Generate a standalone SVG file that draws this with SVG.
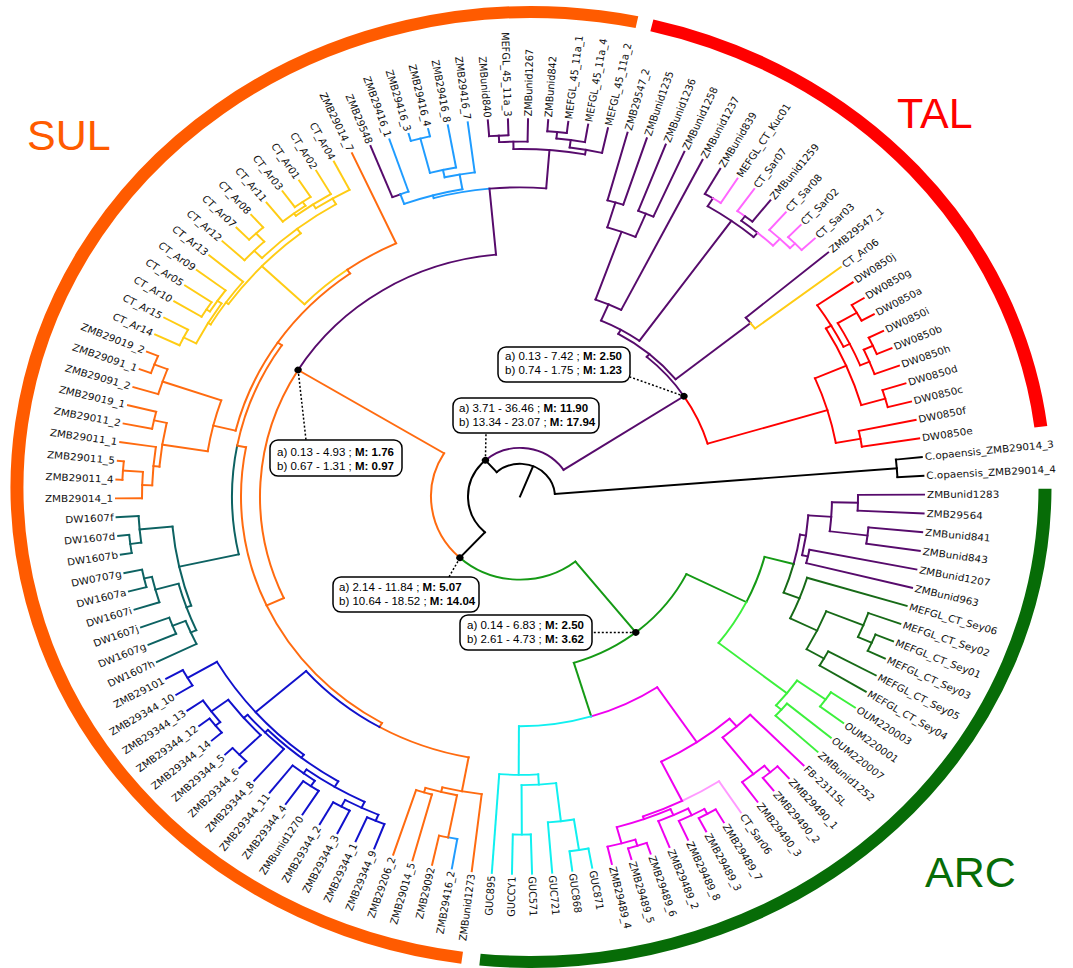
<svg xmlns="http://www.w3.org/2000/svg" width="1073" height="968" viewBox="0 0 1073 968">
<style>
#tree line,#tree circle{fill:none;stroke-width:2;stroke-linecap:square}
.k{stroke:#000}.pu{stroke:#570b6c}.or{stroke:#ff6b10}.ye{stroke:#ffcc14}.lb{stroke:#1f9cff}.te{stroke:#0d6262}.bl{stroke:#1111cc}.rd{stroke:#ff0000}.pk{stroke:#ff66ff}.mg{stroke:#f000f0}.lp{stroke:#ff99ff}.cy{stroke:#10f0f0}.gr{stroke:#159a15}.lm{stroke:#3cf03c}.dg{stroke:#176a17}
.lab text{font-family:"DejaVu Sans",sans-serif;font-size:10.4px;fill:#111;dominant-baseline:central}
.lab .f{text-anchor:end}
.ring{fill:none;stroke-width:13}
.big{font-family:"Liberation Sans",Arial,sans-serif;font-size:43px}
.box rect{fill:#fff;stroke:#000;stroke-width:1.5}
.box text{font-family:"Liberation Sans",Arial,sans-serif;font-size:11.5px;fill:#000}
.lead{stroke:#000;stroke-width:1.5;stroke-dasharray:2 2;fill:none}
</style>
<rect width="1073" height="968" fill="#fff"/>
<g id="rings" transform="translate(531,487) scale(1,0.9241)">
<circle class="ring" r="514" pathLength="360" stroke="#ff5b00" stroke-dasharray="184.2 999" transform="rotate(97.7)"/>
<circle class="ring" r="514" pathLength="360" stroke="#ff0000" stroke-dasharray="69.1 999" transform="rotate(283.6)"/>
<circle class="ring" r="514" pathLength="360" stroke="#076c07" stroke-dasharray="95.5 999" transform="rotate(0.2)"/>
</g>
<g id="clade-labels">
<text class="big" x="27" y="150" fill="#ff5b00">SUL</text>
<text class="big" x="897" y="128" fill="#ff0000">TAL</text>
<text class="big" x="925" y="887" fill="#076c07">ARC</text>
</g>
<g id="tree" transform="translate(520,496.5) scale(1,0.934)">
<line class="k" x1="0" x2="35" transform="rotate(291.89)"/>
<circle class="k" r="35" pathLength="360" stroke-dasharray="127.08 999" transform="rotate(228.35)"/>
<line class="k" x1="35" x2="378" transform="rotate(355.43)"/>
<circle class="k" r="378" pathLength="360" stroke-dasharray="2.86 999" transform="rotate(-6)"/>
<line class="k" x1="378" x2="404" transform="rotate(-6)"/>
<line class="k" x1="378" x2="404" transform="rotate(-3.14)"/>
<line class="k" x1="35" x2="52" transform="rotate(228.35)"/>
<circle class="k" r="52" pathLength="360" stroke-dasharray="95.85 999" transform="rotate(132.5)"/>
<circle class="pu" r="52" pathLength="360" stroke-dasharray="98.42 999" transform="rotate(228.35)"/>
<line class="k" x1="52" x2="89" transform="rotate(132.5)"/>
<circle class="gr" r="89" pathLength="360" stroke-dasharray="81 999" transform="rotate(51.5)"/>
<circle class="or" r="89" pathLength="360" stroke-dasharray="78.9 999" transform="rotate(132.5)"/>
<line class="pu" x1="52" x2="196" transform="rotate(326.77)"/>
<circle class="pu" r="196" pathLength="360" stroke-dasharray="16.47 999" transform="rotate(310.3)"/>
<circle class="rd" r="196" pathLength="360" stroke-dasharray="16.47 999" transform="rotate(326.77)"/>
<line class="pu" x1="196" x2="200" transform="rotate(310.3)"/>
<line class="rd" x1="196" x2="321" transform="rotate(343.24)"/>
<circle class="rd" r="321" pathLength="360" stroke-dasharray="12.94 999" transform="rotate(336.77)"/>
<line class="rd" x1="321" x2="355" transform="rotate(336.77)"/>
<line class="rd" x1="321" x2="346" transform="rotate(349.71)"/>
<circle class="rd" r="346" pathLength="360" stroke-dasharray="2.85 999" transform="rotate(348.29)"/>
<line class="rd" x1="346" x2="404" transform="rotate(348.29)"/>
<line class="rd" x1="346" x2="404" transform="rotate(351.14)"/>
<circle class="rd" r="355" pathLength="360" stroke-dasharray="14.46 999" transform="rotate(329.54)"/>
<line class="rd" x1="355" x2="361" transform="rotate(329.54)"/>
<line class="rd" x1="355" x2="380" transform="rotate(344)"/>
<circle class="rd" r="380" pathLength="360" stroke-dasharray="2.86 999" transform="rotate(342.57)"/>
<line class="rd" x1="380" x2="404" transform="rotate(342.57)"/>
<line class="rd" x1="380" x2="404" transform="rotate(345.43)"/>
<circle class="rd" r="361" pathLength="360" stroke-dasharray="8.21 999" transform="rotate(325.43)"/>
<line class="rd" x1="361" x2="404" transform="rotate(325.43)"/>
<line class="rd" x1="361" x2="368" transform="rotate(333.64)"/>
<circle class="rd" r="368" pathLength="360" stroke-dasharray="7.86 999" transform="rotate(329.71)"/>
<line class="rd" x1="368" x2="390" transform="rotate(329.71)"/>
<line class="rd" x1="368" x2="378" transform="rotate(337.57)"/>
<circle class="rd" r="390" pathLength="360" stroke-dasharray="2.85 999" transform="rotate(328.29)"/>
<line class="rd" x1="390" x2="404" transform="rotate(328.29)"/>
<line class="rd" x1="390" x2="404" transform="rotate(331.14)"/>
<circle class="rd" r="378" pathLength="360" stroke-dasharray="4.28 999" transform="rotate(335.43)"/>
<line class="rd" x1="378" x2="388" transform="rotate(335.43)"/>
<line class="rd" x1="378" x2="404" transform="rotate(339.71)"/>
<circle class="rd" r="388" pathLength="360" stroke-dasharray="2.86 999" transform="rotate(334)"/>
<line class="rd" x1="388" x2="404" transform="rotate(334)"/>
<line class="rd" x1="388" x2="404" transform="rotate(336.86)"/>
<circle class="pu" r="200" pathLength="360" stroke-dasharray="21.69 999" transform="rotate(299.45)"/>
<line class="pu" x1="200" x2="205" transform="rotate(299.45)"/>
<line class="pu" x1="200" x2="296" transform="rotate(321.14)"/>
<circle class="pu" r="296" pathLength="360" stroke-dasharray="1.43 999" transform="rotate(319.71)"/>
<circle class="ye" r="296" pathLength="360" stroke-dasharray="1.43 999" transform="rotate(321.14)"/>
<line class="pu" x1="296" x2="404" transform="rotate(319.71)"/>
<line class="ye" x1="296" x2="404" transform="rotate(322.57)"/>
<circle class="pu" r="205" pathLength="360" stroke-dasharray="12.32 999" transform="rotate(293.29)"/>
<line class="pu" x1="205" x2="224" transform="rotate(293.29)"/>
<line class="pu" x1="205" x2="363" transform="rotate(305.61)"/>
<circle class="pu" r="224" pathLength="360" stroke-dasharray="7.15 999" transform="rotate(289.71)"/>
<line class="pu" x1="224" x2="301" transform="rotate(289.71)"/>
<line class="pu" x1="224" x2="404" transform="rotate(296.86)"/>
<circle class="pu" r="301" pathLength="360" stroke-dasharray="5.71 999" transform="rotate(286.86)"/>
<line class="pu" x1="301" x2="329" transform="rotate(286.86)"/>
<line class="pu" x1="301" x2="328" transform="rotate(292.57)"/>
<circle class="pu" r="329" pathLength="360" stroke-dasharray="2.86 999" transform="rotate(285.43)"/>
<line class="pu" x1="329" x2="404" transform="rotate(285.43)"/>
<line class="pu" x1="329" x2="404" transform="rotate(288.29)"/>
<circle class="pu" r="328" pathLength="360" stroke-dasharray="2.86 999" transform="rotate(291.14)"/>
<line class="pu" x1="328" x2="404" transform="rotate(291.14)"/>
<line class="pu" x1="328" x2="404" transform="rotate(294)"/>
<circle class="pu" r="363" pathLength="360" stroke-dasharray="8.93 999" transform="rotate(301.14)"/>
<line class="pu" x1="363" x2="373" transform="rotate(301.14)"/>
<line class="pu" x1="363" x2="369" transform="rotate(310.07)"/>
<circle class="pu" r="373" pathLength="360" stroke-dasharray="1.43 999" transform="rotate(299.71)"/>
<circle class="pk" r="373" pathLength="360" stroke-dasharray="1.43 999" transform="rotate(301.14)"/>
<line class="pu" x1="373" x2="404" transform="rotate(299.71)"/>
<line class="pk" x1="373" x2="404" transform="rotate(302.57)"/>
<circle class="pu" r="369" pathLength="360" stroke-dasharray="3.21 999" transform="rotate(306.86)"/>
<circle class="pk" r="369" pathLength="360" stroke-dasharray="3.22 999" transform="rotate(310.07)"/>
<line class="pu" x1="369" x2="375" transform="rotate(306.86)"/>
<line class="pk" x1="369" x2="379" transform="rotate(313.29)"/>
<circle class="pk" r="375" pathLength="360" stroke-dasharray="1.43 999" transform="rotate(305.43)"/>
<circle class="pu" r="375" pathLength="360" stroke-dasharray="1.43 999" transform="rotate(306.86)"/>
<line class="pk" x1="375" x2="404" transform="rotate(305.43)"/>
<line class="pu" x1="375" x2="404" transform="rotate(308.29)"/>
<circle class="pk" r="379" pathLength="360" stroke-dasharray="4.29 999" transform="rotate(311.14)"/>
<line class="pk" x1="379" x2="404" transform="rotate(311.14)"/>
<line class="pk" x1="379" x2="386" transform="rotate(315.43)"/>
<circle class="pk" r="386" pathLength="360" stroke-dasharray="2.86 999" transform="rotate(314)"/>
<line class="pk" x1="386" x2="404" transform="rotate(314)"/>
<line class="pk" x1="386" x2="404" transform="rotate(316.86)"/>
<line class="or" x1="89" x2="260" transform="rotate(211.4)"/>
<circle class="or" r="260" pathLength="360" stroke-dasharray="56.12 999" transform="rotate(155.28)"/>
<circle class="pu" r="260" pathLength="360" stroke-dasharray="53.31 999" transform="rotate(211.4)"/>
<line class="or" x1="260" x2="279" transform="rotate(155.28)"/>
<line class="pu" x1="260" x2="331" transform="rotate(264.71)"/>
<circle class="lb" r="331" pathLength="360" stroke-dasharray="9.82 999" transform="rotate(254.89)"/>
<circle class="pu" r="331" pathLength="360" stroke-dasharray="9.83 999" transform="rotate(264.71)"/>
<line class="lb" x1="331" x2="334" transform="rotate(254.89)"/>
<line class="pu" x1="331" x2="372" transform="rotate(274.54)"/>
<circle class="lb" r="334" pathLength="360" stroke-dasharray="10.36 999" transform="rotate(249.71)"/>
<line class="lb" x1="334" x2="345" transform="rotate(249.71)"/>
<line class="lb" x1="334" x2="350" transform="rotate(260.07)"/>
<circle class="pu" r="345" pathLength="360" stroke-dasharray="1.42 999" transform="rotate(248.29)"/>
<circle class="lb" r="345" pathLength="360" stroke-dasharray="1.43 999" transform="rotate(249.71)"/>
<line class="pu" x1="345" x2="404" transform="rotate(248.29)"/>
<line class="lb" x1="345" x2="404" transform="rotate(251.14)"/>
<circle class="lb" r="350" pathLength="360" stroke-dasharray="5 999" transform="rotate(257.57)"/>
<line class="lb" x1="350" x2="358" transform="rotate(257.57)"/>
<line class="lb" x1="350" x2="404" transform="rotate(262.57)"/>
<circle class="lb" r="358" pathLength="360" stroke-dasharray="4.28 999" transform="rotate(255.43)"/>
<line class="lb" x1="358" x2="396" transform="rotate(255.43)"/>
<line class="lb" x1="358" x2="404" transform="rotate(259.71)"/>
<circle class="lb" r="396" pathLength="360" stroke-dasharray="2.86 999" transform="rotate(254)"/>
<line class="lb" x1="396" x2="404" transform="rotate(254)"/>
<line class="lb" x1="396" x2="404" transform="rotate(256.86)"/>
<circle class="pu" r="372" pathLength="360" stroke-dasharray="11.07 999" transform="rotate(269)"/>
<line class="pu" x1="372" x2="380" transform="rotate(269)"/>
<line class="pu" x1="372" x2="377" transform="rotate(280.07)"/>
<circle class="pu" r="380" pathLength="360" stroke-dasharray="4.28 999" transform="rotate(266.86)"/>
<line class="pu" x1="380" x2="387" transform="rotate(266.86)"/>
<line class="pu" x1="380" x2="404" transform="rotate(271.14)"/>
<circle class="pu" r="387" pathLength="360" stroke-dasharray="2.86 999" transform="rotate(265.43)"/>
<line class="pu" x1="387" x2="404" transform="rotate(265.43)"/>
<line class="pu" x1="387" x2="404" transform="rotate(268.29)"/>
<circle class="pu" r="377" pathLength="360" stroke-dasharray="5 999" transform="rotate(277.57)"/>
<line class="pu" x1="377" x2="385" transform="rotate(277.57)"/>
<line class="pu" x1="377" x2="404" transform="rotate(282.57)"/>
<circle class="pu" r="385" pathLength="360" stroke-dasharray="4.28 999" transform="rotate(275.43)"/>
<line class="pu" x1="385" x2="392" transform="rotate(275.43)"/>
<line class="pu" x1="385" x2="404" transform="rotate(279.71)"/>
<circle class="pu" r="392" pathLength="360" stroke-dasharray="2.86 999" transform="rotate(274)"/>
<line class="pu" x1="392" x2="404" transform="rotate(274)"/>
<line class="pu" x1="392" x2="404" transform="rotate(276.86)"/>
<circle class="or" r="279" pathLength="360" stroke-dasharray="71.25 999" transform="rotate(119.65)"/>
<line class="or" x1="279" x2="284" transform="rotate(119.65)"/>
<line class="or" x1="279" x2="288" transform="rotate(190.9)"/>
<circle class="or" r="284" pathLength="360" stroke-dasharray="19.22 999" transform="rotate(100.43)"/>
<circle class="bl" r="284" pathLength="360" stroke-dasharray="19.22 999" transform="rotate(119.65)"/>
<line class="or" x1="284" x2="321" transform="rotate(100.43)"/>
<line class="bl" x1="284" x2="351" transform="rotate(138.87)"/>
<circle class="or" r="321" pathLength="360" stroke-dasharray="7.14 999" transform="rotate(96.86)"/>
<line class="or" x1="321" x2="404" transform="rotate(96.86)"/>
<line class="or" x1="321" x2="326" transform="rotate(104)"/>
<circle class="or" r="326" pathLength="360" stroke-dasharray="5.72 999" transform="rotate(101.14)"/>
<line class="or" x1="326" x2="372" transform="rotate(101.14)"/>
<line class="or" x1="326" x2="331" transform="rotate(106.86)"/>
<circle class="lb" r="372" pathLength="360" stroke-dasharray="1.43 999" transform="rotate(99.71)"/>
<circle class="or" r="372" pathLength="360" stroke-dasharray="1.43 999" transform="rotate(101.14)"/>
<line class="lb" x1="372" x2="404" transform="rotate(99.71)"/>
<line class="or" x1="372" x2="404" transform="rotate(102.57)"/>
<circle class="or" r="331" pathLength="360" stroke-dasharray="2.86 999" transform="rotate(105.43)"/>
<line class="or" x1="331" x2="404" transform="rotate(105.43)"/>
<line class="or" x1="331" x2="404" transform="rotate(108.29)"/>
<circle class="bl" r="351" pathLength="360" stroke-dasharray="21.69 999" transform="rotate(128.02)"/>
<line class="bl" x1="351" x2="355" transform="rotate(128.02)"/>
<line class="bl" x1="351" x2="385" transform="rotate(149.71)"/>
<circle class="bl" r="385" pathLength="360" stroke-dasharray="2.85 999" transform="rotate(148.29)"/>
<line class="bl" x1="385" x2="404" transform="rotate(148.29)"/>
<line class="bl" x1="385" x2="404" transform="rotate(151.14)"/>
<circle class="bl" r="355" pathLength="360" stroke-dasharray="14.46 999" transform="rotate(120.79)"/>
<line class="bl" x1="355" x2="362" transform="rotate(120.79)"/>
<line class="bl" x1="355" x2="359" transform="rotate(135.25)"/>
<circle class="bl" r="359" pathLength="360" stroke-dasharray="8.22 999" transform="rotate(131.14)"/>
<line class="bl" x1="359" x2="404" transform="rotate(131.14)"/>
<line class="bl" x1="359" x2="364" transform="rotate(139.36)"/>
<circle class="bl" r="364" pathLength="360" stroke-dasharray="7.86 999" transform="rotate(135.43)"/>
<line class="bl" x1="364" x2="394" transform="rotate(135.43)"/>
<line class="bl" x1="364" x2="385" transform="rotate(143.29)"/>
<circle class="bl" r="394" pathLength="360" stroke-dasharray="2.86 999" transform="rotate(134)"/>
<line class="bl" x1="394" x2="404" transform="rotate(134)"/>
<line class="bl" x1="394" x2="404" transform="rotate(136.86)"/>
<circle class="bl" r="385" pathLength="360" stroke-dasharray="4.29 999" transform="rotate(141.14)"/>
<line class="bl" x1="385" x2="391" transform="rotate(141.14)"/>
<line class="bl" x1="385" x2="404" transform="rotate(145.43)"/>
<circle class="bl" r="391" pathLength="360" stroke-dasharray="2.86 999" transform="rotate(139.71)"/>
<line class="bl" x1="391" x2="404" transform="rotate(139.71)"/>
<line class="bl" x1="391" x2="404" transform="rotate(142.57)"/>
<circle class="bl" r="362" pathLength="360" stroke-dasharray="10.71 999" transform="rotate(115.43)"/>
<line class="bl" x1="362" x2="369" transform="rotate(115.43)"/>
<line class="bl" x1="362" x2="367" transform="rotate(126.14)"/>
<circle class="bl" r="367" pathLength="360" stroke-dasharray="4.29 999" transform="rotate(124)"/>
<line class="bl" x1="367" x2="374" transform="rotate(124)"/>
<line class="bl" x1="367" x2="404" transform="rotate(128.29)"/>
<circle class="bl" r="374" pathLength="360" stroke-dasharray="2.86 999" transform="rotate(122.57)"/>
<line class="bl" x1="374" x2="404" transform="rotate(122.57)"/>
<line class="bl" x1="374" x2="404" transform="rotate(125.43)"/>
<circle class="bl" r="369" pathLength="360" stroke-dasharray="5.72 999" transform="rotate(112.57)"/>
<line class="bl" x1="369" x2="376" transform="rotate(112.57)"/>
<line class="bl" x1="369" x2="377" transform="rotate(118.29)"/>
<circle class="bl" r="376" pathLength="360" stroke-dasharray="2.86 999" transform="rotate(111.14)"/>
<line class="bl" x1="376" x2="404" transform="rotate(111.14)"/>
<line class="bl" x1="376" x2="404" transform="rotate(114)"/>
<circle class="bl" r="377" pathLength="360" stroke-dasharray="2.85 999" transform="rotate(116.86)"/>
<line class="bl" x1="377" x2="404" transform="rotate(116.86)"/>
<line class="bl" x1="377" x2="404" transform="rotate(119.71)"/>
<circle class="te" r="288" pathLength="360" stroke-dasharray="23.33 999" transform="rotate(167.57)"/>
<circle class="or" r="288" pathLength="360" stroke-dasharray="23.34 999" transform="rotate(190.9)"/>
<line class="te" x1="288" x2="349" transform="rotate(167.57)"/>
<line class="or" x1="288" x2="293" transform="rotate(214.24)"/>
<circle class="te" r="349" pathLength="360" stroke-dasharray="14.28 999" transform="rotate(160.43)"/>
<line class="te" x1="349" x2="354" transform="rotate(160.43)"/>
<line class="te" x1="349" x2="382" transform="rotate(174.71)"/>
<circle class="te" r="382" pathLength="360" stroke-dasharray="4.29 999" transform="rotate(172.57)"/>
<line class="te" x1="382" x2="393" transform="rotate(172.57)"/>
<line class="te" x1="382" x2="404" transform="rotate(176.86)"/>
<circle class="te" r="393" pathLength="360" stroke-dasharray="2.86 999" transform="rotate(171.14)"/>
<line class="te" x1="393" x2="404" transform="rotate(171.14)"/>
<line class="te" x1="393" x2="404" transform="rotate(174)"/>
<circle class="te" r="354" pathLength="360" stroke-dasharray="8.57 999" transform="rotate(156.14)"/>
<line class="te" x1="354" x2="360" transform="rotate(156.14)"/>
<line class="te" x1="354" x2="378" transform="rotate(164.71)"/>
<circle class="te" r="378" pathLength="360" stroke-dasharray="4.29 999" transform="rotate(162.57)"/>
<line class="te" x1="378" x2="404" transform="rotate(162.57)"/>
<line class="te" x1="378" x2="386" transform="rotate(166.86)"/>
<circle class="te" r="386" pathLength="360" stroke-dasharray="2.86 999" transform="rotate(165.43)"/>
<line class="te" x1="386" x2="404" transform="rotate(165.43)"/>
<line class="te" x1="386" x2="404" transform="rotate(168.29)"/>
<circle class="te" r="360" pathLength="360" stroke-dasharray="4.29 999" transform="rotate(154)"/>
<line class="te" x1="360" x2="404" transform="rotate(154)"/>
<line class="te" x1="360" x2="374" transform="rotate(158.29)"/>
<circle class="te" r="374" pathLength="360" stroke-dasharray="2.85 999" transform="rotate(156.86)"/>
<line class="te" x1="374" x2="404" transform="rotate(156.86)"/>
<line class="te" x1="374" x2="404" transform="rotate(159.71)"/>
<circle class="or" r="293" pathLength="360" stroke-dasharray="40.65 999" transform="rotate(193.91)"/>
<line class="or" x1="293" x2="316" transform="rotate(193.91)"/>
<line class="or" x1="293" x2="298" transform="rotate(234.56)"/>
<circle class="or" r="316" pathLength="360" stroke-dasharray="10.18 999" transform="rotate(188.82)"/>
<line class="or" x1="316" x2="362" transform="rotate(188.82)"/>
<line class="or" x1="316" x2="378" transform="rotate(199)"/>
<circle class="or" r="378" pathLength="360" stroke-dasharray="4.28 999" transform="rotate(196.86)"/>
<line class="or" x1="378" x2="404" transform="rotate(196.86)"/>
<line class="or" x1="378" x2="392" transform="rotate(201.14)"/>
<circle class="or" r="392" pathLength="360" stroke-dasharray="2.86 999" transform="rotate(199.71)"/>
<line class="or" x1="392" x2="404" transform="rotate(199.71)"/>
<line class="or" x1="392" x2="404" transform="rotate(202.57)"/>
<circle class="or" r="362" pathLength="360" stroke-dasharray="7.5 999" transform="rotate(185.07)"/>
<line class="or" x1="362" x2="368" transform="rotate(185.07)"/>
<line class="or" x1="362" x2="375" transform="rotate(192.57)"/>
<circle class="or" r="375" pathLength="360" stroke-dasharray="2.86 999" transform="rotate(191.14)"/>
<line class="or" x1="375" x2="404" transform="rotate(191.14)"/>
<line class="or" x1="375" x2="404" transform="rotate(194)"/>
<circle class="or" r="368" pathLength="360" stroke-dasharray="6.43 999" transform="rotate(181.86)"/>
<line class="or" x1="368" x2="378" transform="rotate(181.86)"/>
<line class="or" x1="368" x2="404" transform="rotate(188.29)"/>
<circle class="or" r="378" pathLength="360" stroke-dasharray="4.29 999" transform="rotate(179.71)"/>
<line class="or" x1="378" x2="404" transform="rotate(179.71)"/>
<line class="or" x1="378" x2="398" transform="rotate(184)"/>
<circle class="or" r="398" pathLength="360" stroke-dasharray="2.86 999" transform="rotate(182.57)"/>
<line class="or" x1="398" x2="404" transform="rotate(182.57)"/>
<line class="or" x1="398" x2="404" transform="rotate(185.43)"/>
<circle class="ye" r="298" pathLength="360" stroke-dasharray="10.87 999" transform="rotate(223.69)"/>
<circle class="or" r="298" pathLength="360" stroke-dasharray="10.87 999" transform="rotate(234.56)"/>
<line class="ye" x1="298" x2="357" transform="rotate(223.69)"/>
<line class="or" x1="298" x2="404" transform="rotate(245.43)"/>
<circle class="ye" r="357" pathLength="360" stroke-dasharray="16.87 999" transform="rotate(215.25)"/>
<line class="ye" x1="357" x2="360" transform="rotate(215.25)"/>
<line class="ye" x1="357" x2="363" transform="rotate(232.12)"/>
<circle class="ye" r="360" pathLength="360" stroke-dasharray="8.92 999" transform="rotate(210.79)"/>
<line class="ye" x1="360" x2="363" transform="rotate(210.79)"/>
<line class="ye" x1="360" x2="404" transform="rotate(219.71)"/>
<circle class="ye" r="363" pathLength="360" stroke-dasharray="7.85 999" transform="rotate(206.86)"/>
<line class="ye" x1="363" x2="377" transform="rotate(206.86)"/>
<line class="ye" x1="363" x2="368" transform="rotate(214.71)"/>
<circle class="ye" r="377" pathLength="360" stroke-dasharray="2.86 999" transform="rotate(205.43)"/>
<line class="ye" x1="377" x2="404" transform="rotate(205.43)"/>
<line class="ye" x1="377" x2="404" transform="rotate(208.29)"/>
<circle class="ye" r="368" pathLength="360" stroke-dasharray="4.29 999" transform="rotate(212.57)"/>
<line class="ye" x1="368" x2="372" transform="rotate(212.57)"/>
<line class="ye" x1="368" x2="404" transform="rotate(216.86)"/>
<circle class="ye" r="372" pathLength="360" stroke-dasharray="2.86 999" transform="rotate(211.14)"/>
<line class="ye" x1="372" x2="404" transform="rotate(211.14)"/>
<line class="ye" x1="372" x2="404" transform="rotate(214)"/>
<circle class="ye" r="363" pathLength="360" stroke-dasharray="14.83 999" transform="rotate(224.71)"/>
<line class="ye" x1="363" x2="374" transform="rotate(224.71)"/>
<line class="ye" x1="363" x2="370" transform="rotate(239.54)"/>
<circle class="ye" r="374" pathLength="360" stroke-dasharray="4.29 999" transform="rotate(222.57)"/>
<line class="ye" x1="374" x2="404" transform="rotate(222.57)"/>
<line class="ye" x1="374" x2="386" transform="rotate(226.86)"/>
<circle class="ye" r="386" pathLength="360" stroke-dasharray="2.86 999" transform="rotate(225.43)"/>
<line class="ye" x1="386" x2="404" transform="rotate(225.43)"/>
<line class="ye" x1="386" x2="404" transform="rotate(228.29)"/>
<circle class="ye" r="370" pathLength="360" stroke-dasharray="6.07 999" transform="rotate(236.5)"/>
<line class="ye" x1="370" x2="375" transform="rotate(236.5)"/>
<line class="ye" x1="370" x2="404" transform="rotate(242.57)"/>
<circle class="ye" r="375" pathLength="360" stroke-dasharray="6.42 999" transform="rotate(233.29)"/>
<line class="ye" x1="375" x2="378" transform="rotate(233.29)"/>
<line class="ye" x1="375" x2="404" transform="rotate(239.71)"/>
<circle class="ye" r="378" pathLength="360" stroke-dasharray="4.29 999" transform="rotate(231.14)"/>
<line class="ye" x1="378" x2="404" transform="rotate(231.14)"/>
<line class="ye" x1="378" x2="383" transform="rotate(235.43)"/>
<circle class="ye" r="383" pathLength="360" stroke-dasharray="2.86 999" transform="rotate(234)"/>
<line class="ye" x1="383" x2="404" transform="rotate(234)"/>
<line class="ye" x1="383" x2="404" transform="rotate(236.86)"/>
<line class="gr" x1="89" x2="186" transform="rotate(51.5)"/>
<circle class="gr" r="186" pathLength="360" stroke-dasharray="46.62 999" transform="rotate(26.55)"/>
<line class="gr" x1="186" x2="253" transform="rotate(26.55)"/>
<line class="gr" x1="186" x2="246" transform="rotate(73.17)"/>
<circle class="gr" r="253" pathLength="360" stroke-dasharray="11.75 999" transform="rotate(14.8)"/>
<circle class="lm" r="253" pathLength="360" stroke-dasharray="11.74 999" transform="rotate(26.55)"/>
<line class="gr" x1="253" x2="283" transform="rotate(14.8)"/>
<line class="lm" x1="253" x2="340" transform="rotate(38.29)"/>
<circle class="pu" r="283" pathLength="360" stroke-dasharray="6.51 999" transform="rotate(8.29)"/>
<circle class="dg" r="283" pathLength="360" stroke-dasharray="6.52 999" transform="rotate(14.8)"/>
<line class="pu" x1="283" x2="289" transform="rotate(8.29)"/>
<line class="dg" x1="283" x2="300" transform="rotate(21.32)"/>
<circle class="pu" r="289" pathLength="360" stroke-dasharray="8.57 999" transform="rotate(4)"/>
<line class="pu" x1="289" x2="312" transform="rotate(4)"/>
<line class="pu" x1="289" x2="295" transform="rotate(12.57)"/>
<circle class="pu" r="295" pathLength="360" stroke-dasharray="2.86 999" transform="rotate(11.14)"/>
<line class="pu" x1="295" x2="404" transform="rotate(11.14)"/>
<line class="pu" x1="295" x2="404" transform="rotate(14)"/>
<circle class="pu" r="312" pathLength="360" stroke-dasharray="5.72 999" transform="rotate(1.14)"/>
<line class="pu" x1="312" x2="338" transform="rotate(1.14)"/>
<line class="pu" x1="312" x2="350" transform="rotate(6.86)"/>
<circle class="pu" r="338" pathLength="360" stroke-dasharray="2.86 999" transform="rotate(-0.29)"/>
<line class="pu" x1="338" x2="404" transform="rotate(-0.29)"/>
<line class="pu" x1="338" x2="404" transform="rotate(2.57)"/>
<circle class="pu" r="350" pathLength="360" stroke-dasharray="2.86 999" transform="rotate(5.43)"/>
<line class="pu" x1="350" x2="404" transform="rotate(5.43)"/>
<line class="pu" x1="350" x2="404" transform="rotate(8.29)"/>
<circle class="dg" r="300" pathLength="360" stroke-dasharray="8.93 999" transform="rotate(16.86)"/>
<line class="dg" x1="300" x2="404" transform="rotate(16.86)"/>
<line class="dg" x1="300" x2="330" transform="rotate(25.79)"/>
<circle class="dg" r="330" pathLength="360" stroke-dasharray="7.85 999" transform="rotate(21.86)"/>
<line class="dg" x1="330" x2="370" transform="rotate(21.86)"/>
<line class="dg" x1="330" x2="350" transform="rotate(29.71)"/>
<circle class="dg" r="370" pathLength="360" stroke-dasharray="4.29 999" transform="rotate(19.71)"/>
<line class="dg" x1="370" x2="404" transform="rotate(19.71)"/>
<line class="dg" x1="370" x2="385" transform="rotate(24)"/>
<circle class="dg" r="385" pathLength="360" stroke-dasharray="2.86 999" transform="rotate(22.57)"/>
<line class="dg" x1="385" x2="404" transform="rotate(22.57)"/>
<line class="dg" x1="385" x2="404" transform="rotate(25.43)"/>
<circle class="dg" r="350" pathLength="360" stroke-dasharray="2.85 999" transform="rotate(28.29)"/>
<line class="dg" x1="350" x2="404" transform="rotate(28.29)"/>
<line class="dg" x1="350" x2="404" transform="rotate(31.14)"/>
<circle class="lm" r="340" pathLength="360" stroke-dasharray="5.71 999" transform="rotate(35.43)"/>
<line class="lm" x1="340" x2="375" transform="rotate(35.43)"/>
<line class="lm" x1="340" x2="347" transform="rotate(41.14)"/>
<circle class="lm" r="375" pathLength="360" stroke-dasharray="2.86 999" transform="rotate(34)"/>
<line class="lm" x1="375" x2="404" transform="rotate(34)"/>
<line class="lm" x1="375" x2="404" transform="rotate(36.86)"/>
<circle class="lm" r="347" pathLength="360" stroke-dasharray="2.86 999" transform="rotate(39.71)"/>
<line class="lm" x1="347" x2="404" transform="rotate(39.71)"/>
<line class="lm" x1="347" x2="404" transform="rotate(42.57)"/>
<circle class="mg" r="246" pathLength="360" stroke-dasharray="17.07 999" transform="rotate(56.1)"/>
<circle class="cy" r="246" pathLength="360" stroke-dasharray="17.08 999" transform="rotate(73.17)"/>
<line class="mg" x1="246" x2="317" transform="rotate(56.1)"/>
<line class="cy" x1="246" x2="298" transform="rotate(90.25)"/>
<circle class="cy" r="298" pathLength="360" stroke-dasharray="7.5 999" transform="rotate(86.5)"/>
<line class="cy" x1="298" x2="309" transform="rotate(86.5)"/>
<line class="cy" x1="298" x2="404" transform="rotate(94)"/>
<circle class="cy" r="309" pathLength="360" stroke-dasharray="6.42 999" transform="rotate(83.29)"/>
<line class="cy" x1="309" x2="350" transform="rotate(83.29)"/>
<line class="cy" x1="309" x2="362" transform="rotate(89.71)"/>
<circle class="cy" r="362" pathLength="360" stroke-dasharray="2.85 999" transform="rotate(88.29)"/>
<line class="cy" x1="362" x2="404" transform="rotate(88.29)"/>
<line class="cy" x1="362" x2="404" transform="rotate(91.14)"/>
<circle class="cy" r="350" pathLength="360" stroke-dasharray="4.29 999" transform="rotate(81.14)"/>
<line class="cy" x1="350" x2="383" transform="rotate(81.14)"/>
<line class="cy" x1="350" x2="404" transform="rotate(85.43)"/>
<circle class="cy" r="383" pathLength="360" stroke-dasharray="2.86 999" transform="rotate(79.71)"/>
<line class="cy" x1="383" x2="404" transform="rotate(79.71)"/>
<line class="cy" x1="383" x2="404" transform="rotate(82.57)"/>
<circle class="mg" r="317" pathLength="360" stroke-dasharray="14.91 999" transform="rotate(48.64)"/>
<line class="mg" x1="317" x2="328" transform="rotate(48.64)"/>
<line class="mg" x1="317" x2="364" transform="rotate(63.55)"/>
<circle class="mg" r="328" pathLength="360" stroke-dasharray="6.43 999" transform="rotate(45.43)"/>
<line class="mg" x1="328" x2="404" transform="rotate(45.43)"/>
<line class="mg" x1="328" x2="378" transform="rotate(51.86)"/>
<circle class="mg" r="378" pathLength="360" stroke-dasharray="4.29 999" transform="rotate(49.71)"/>
<line class="mg" x1="378" x2="387" transform="rotate(49.71)"/>
<line class="mg" x1="378" x2="404" transform="rotate(54)"/>
<circle class="mg" r="387" pathLength="360" stroke-dasharray="2.85 999" transform="rotate(48.29)"/>
<line class="mg" x1="387" x2="404" transform="rotate(48.29)"/>
<line class="mg" x1="387" x2="404" transform="rotate(51.14)"/>
<circle class="lp" r="364" pathLength="360" stroke-dasharray="6.69 999" transform="rotate(56.86)"/>
<circle class="mg" r="364" pathLength="360" stroke-dasharray="6.7 999" transform="rotate(63.55)"/>
<line class="lp" x1="364" x2="404" transform="rotate(56.86)"/>
<line class="mg" x1="364" x2="367" transform="rotate(70.25)"/>
<circle class="mg" r="367" pathLength="360" stroke-dasharray="8.92 999" transform="rotate(65.79)"/>
<line class="mg" x1="367" x2="374" transform="rotate(65.79)"/>
<line class="mg" x1="367" x2="385" transform="rotate(74.71)"/>
<circle class="mg" r="385" pathLength="360" stroke-dasharray="4.29 999" transform="rotate(72.57)"/>
<line class="mg" x1="385" x2="392" transform="rotate(72.57)"/>
<line class="mg" x1="385" x2="404" transform="rotate(76.86)"/>
<circle class="mg" r="392" pathLength="360" stroke-dasharray="2.86 999" transform="rotate(71.14)"/>
<line class="mg" x1="392" x2="404" transform="rotate(71.14)"/>
<line class="mg" x1="392" x2="404" transform="rotate(74)"/>
<circle class="mg" r="374" pathLength="360" stroke-dasharray="5 999" transform="rotate(63.29)"/>
<line class="mg" x1="374" x2="382" transform="rotate(63.29)"/>
<line class="mg" x1="374" x2="404" transform="rotate(68.29)"/>
<circle class="mg" r="382" pathLength="360" stroke-dasharray="4.29 999" transform="rotate(61.14)"/>
<line class="mg" x1="382" x2="388" transform="rotate(61.14)"/>
<line class="mg" x1="382" x2="404" transform="rotate(65.43)"/>
<circle class="mg" r="388" pathLength="360" stroke-dasharray="2.86 999" transform="rotate(59.71)"/>
<line class="mg" x1="388" x2="404" transform="rotate(59.71)"/>
<line class="mg" x1="388" x2="404" transform="rotate(62.57)"/>
</g>
<g id="node-dots" transform="translate(520,496.5) scale(1,0.934)" fill="#000">
<circle r="3.6" transform="rotate(228.35) translate(52)"/>
<circle r="3.6" transform="rotate(132.5) translate(89)"/>
<circle r="3.6" transform="rotate(211.4) translate(260)"/>
<circle r="3.6" transform="rotate(326.77) translate(196)"/>
<circle r="3.6" transform="rotate(51.5) translate(186)"/>
</g>
<g class="lab" transform="translate(520,496.5) scale(1,0.934)">
<g id="L1"><text transform="rotate(-6) translate(407)">C.opaensis_ZMB29014_3</text></g>
<g id="L2"><text transform="rotate(-3.14) translate(407)">C.opaensis_ZMB29014_4</text></g>
<g id="L3"><text transform="rotate(-0.29) translate(407)">ZMBunid1283</text></g>
<g id="L4"><text transform="rotate(2.57) translate(407)">ZMB29564</text></g>
<g id="L5"><text transform="rotate(5.43) translate(407)">ZMBunid841</text></g>
<g id="L6"><text transform="rotate(8.29) translate(407)">ZMBunid843</text></g>
<g id="L7"><text transform="rotate(11.14) translate(407)">ZMBunid1207</text></g>
<g id="L8"><text transform="rotate(14) translate(407)">ZMBunid963</text></g>
<g id="L9"><text transform="rotate(16.86) translate(407)">MEFGL_CT_Sey06</text></g>
<g id="L10"><text transform="rotate(19.71) translate(407)">MEFGL_CT_Sey02</text></g>
<g id="L11"><text transform="rotate(22.57) translate(407)">MEFGL_CT_Sey01</text></g>
<g id="L12"><text transform="rotate(25.43) translate(407)">MEFGL_CT_Sey03</text></g>
<g id="L13"><text transform="rotate(28.29) translate(407)">MEFGL_CT_Sey05</text></g>
<g id="L14"><text transform="rotate(31.14) translate(407)">MEFGL_CT_Sey04</text></g>
<g id="L15"><text transform="rotate(34) translate(407)">OUM220003</text></g>
<g id="L16"><text transform="rotate(36.86) translate(407)">OUM220001</text></g>
<g id="L17"><text transform="rotate(39.71) translate(407)">OUM220007</text></g>
<g id="L18"><text transform="rotate(42.57) translate(407)">ZMBunid1252</text></g>
<g id="L19"><text transform="rotate(45.43) translate(407)">FB-2311SL</text></g>
<g id="L20"><text transform="rotate(48.29) translate(407)">ZMB29490_1</text></g>
<g id="L21"><text transform="rotate(51.14) translate(407)">ZMB29490_2</text></g>
<g id="L22"><text transform="rotate(54) translate(407)">ZMB29490_3</text></g>
<g id="L23"><text transform="rotate(56.86) translate(407)">CT_Sar06</text></g>
<g id="L24"><text transform="rotate(59.71) translate(407)">ZMB29489_7</text></g>
<g id="L25"><text transform="rotate(62.57) translate(407)">ZMB29489_3</text></g>
<g id="L26"><text transform="rotate(65.43) translate(407)">ZMB29489_8</text></g>
<g id="L27"><text transform="rotate(68.29) translate(407)">ZMB29489_2</text></g>
<g id="L28"><text transform="rotate(71.14) translate(407)">ZMB29489_6</text></g>
<g id="L29"><text transform="rotate(74) translate(407)">ZMB29489_5</text></g>
<g id="L30"><text transform="rotate(76.86) translate(407)">ZMB29489_4</text></g>
<g id="L31"><text transform="rotate(79.71) translate(407)">GUC871</text></g>
<g id="L32"><text transform="rotate(82.57) translate(407)">GUC868</text></g>
<g id="L33"><text transform="rotate(85.43) translate(407)">GUC721</text></g>
<g id="L34"><text transform="rotate(88.29) translate(407)">GUC571</text></g>
<g id="L35"><text class="f" transform="rotate(91.14) translate(407) rotate(180)">GUCCY1</text></g>
<g id="L36"><text class="f" transform="rotate(94) translate(407) rotate(180)">GUC895</text></g>
<g id="L37"><text class="f" transform="rotate(96.86) translate(407) rotate(180)">ZMBunid1273</text></g>
<g id="L38"><text class="f" transform="rotate(99.71) translate(407) rotate(180)">ZMB29416_2</text></g>
<g id="L39"><text class="f" transform="rotate(102.57) translate(407) rotate(180)">ZMB29092</text></g>
<g id="L40"><text class="f" transform="rotate(105.43) translate(407) rotate(180)">ZMB29014_5</text></g>
<g id="L41"><text class="f" transform="rotate(108.29) translate(407) rotate(180)">ZMB29206_2</text></g>
<g id="L42"><text class="f" transform="rotate(111.14) translate(407) rotate(180)">ZMB29344_9</text></g>
<g id="L43"><text class="f" transform="rotate(114) translate(407) rotate(180)">ZMB29344_1</text></g>
<g id="L44"><text class="f" transform="rotate(116.86) translate(407) rotate(180)">ZMB29344_3</text></g>
<g id="L45"><text class="f" transform="rotate(119.71) translate(407) rotate(180)">ZMB29344_2</text></g>
<g id="L46"><text class="f" transform="rotate(122.57) translate(407) rotate(180)">ZMBunid1270</text></g>
<g id="L47"><text class="f" transform="rotate(125.43) translate(407) rotate(180)">ZMB29344_4</text></g>
<g id="L48"><text class="f" transform="rotate(128.29) translate(407) rotate(180)">ZMB29344_11</text></g>
<g id="L49"><text class="f" transform="rotate(131.14) translate(407) rotate(180)">ZMB29344_8</text></g>
<g id="L50"><text class="f" transform="rotate(134) translate(407) rotate(180)">ZMB29344_6</text></g>
<g id="L51"><text class="f" transform="rotate(136.86) translate(407) rotate(180)">ZMB29344_5</text></g>
<g id="L52"><text class="f" transform="rotate(139.71) translate(407) rotate(180)">ZMB29344_14</text></g>
<g id="L53"><text class="f" transform="rotate(142.57) translate(407) rotate(180)">ZMB29344_12</text></g>
<g id="L54"><text class="f" transform="rotate(145.43) translate(407) rotate(180)">ZMB29344_13</text></g>
<g id="L55"><text class="f" transform="rotate(148.29) translate(407) rotate(180)">ZMB29344_10</text></g>
<g id="L56"><text class="f" transform="rotate(151.14) translate(407) rotate(180)">ZMB29101</text></g>
<g id="L57"><text class="f" transform="rotate(154) translate(407) rotate(180)">DW1607h</text></g>
<g id="L58"><text class="f" transform="rotate(156.86) translate(407) rotate(180)">DW1607g</text></g>
<g id="L59"><text class="f" transform="rotate(159.71) translate(407) rotate(180)">DW1607j</text></g>
<g id="L60"><text class="f" transform="rotate(162.57) translate(407) rotate(180)">DW1607i</text></g>
<g id="L61"><text class="f" transform="rotate(165.43) translate(407) rotate(180)">DW1607a</text></g>
<g id="L62"><text class="f" transform="rotate(168.29) translate(407) rotate(180)">DW0707g</text></g>
<g id="L63"><text class="f" transform="rotate(171.14) translate(407) rotate(180)">DW1607b</text></g>
<g id="L64"><text class="f" transform="rotate(174) translate(407) rotate(180)">DW1607d</text></g>
<g id="L65"><text class="f" transform="rotate(176.86) translate(407) rotate(180)">DW1607f</text></g>
<g id="L66"><text class="f" transform="rotate(179.71) translate(407) rotate(180)">ZMB29014_1</text></g>
<g id="L67"><text class="f" transform="rotate(182.57) translate(407) rotate(180)">ZMB29011_4</text></g>
<g id="L68"><text class="f" transform="rotate(185.43) translate(407) rotate(180)">ZMB29011_5</text></g>
<g id="L69"><text class="f" transform="rotate(188.29) translate(407) rotate(180)">ZMB29011_1</text></g>
<g id="L70"><text class="f" transform="rotate(191.14) translate(407) rotate(180)">ZMB29011_2</text></g>
<g id="L71"><text class="f" transform="rotate(194) translate(407) rotate(180)">ZMB29019_1</text></g>
<g id="L72"><text class="f" transform="rotate(196.86) translate(407) rotate(180)">ZMB29091_2</text></g>
<g id="L73"><text class="f" transform="rotate(199.71) translate(407) rotate(180)">ZMB29091_1</text></g>
<g id="L74"><text class="f" transform="rotate(202.57) translate(407) rotate(180)">ZMB29019_2</text></g>
<g id="L75"><text class="f" transform="rotate(205.43) translate(407) rotate(180)">CT_Ar14</text></g>
<g id="L76"><text class="f" transform="rotate(208.29) translate(407) rotate(180)">CT_Ar15</text></g>
<g id="L77"><text class="f" transform="rotate(211.14) translate(407) rotate(180)">CT_Ar10</text></g>
<g id="L78"><text class="f" transform="rotate(214) translate(407) rotate(180)">CT_Ar05</text></g>
<g id="L79"><text class="f" transform="rotate(216.86) translate(407) rotate(180)">CT_Ar09</text></g>
<g id="L80"><text class="f" transform="rotate(219.71) translate(407) rotate(180)">CT_Ar13</text></g>
<g id="L81"><text class="f" transform="rotate(222.57) translate(407) rotate(180)">CT_Ar12</text></g>
<g id="L82"><text class="f" transform="rotate(225.43) translate(407) rotate(180)">CT_Ar07</text></g>
<g id="L83"><text class="f" transform="rotate(228.29) translate(407) rotate(180)">CT_Ar08</text></g>
<g id="L84"><text class="f" transform="rotate(231.14) translate(407) rotate(180)">CT_Ar11</text></g>
<g id="L85"><text class="f" transform="rotate(234) translate(407) rotate(180)">CT_Ar03</text></g>
<g id="L86"><text class="f" transform="rotate(236.86) translate(407) rotate(180)">CT_Ar01</text></g>
<g id="L87"><text class="f" transform="rotate(239.71) translate(407) rotate(180)">CT_Ar02</text></g>
<g id="L88"><text class="f" transform="rotate(242.57) translate(407) rotate(180)">CT_Ar04</text></g>
<g id="L89"><text class="f" transform="rotate(245.43) translate(407) rotate(180)">ZMB29014_7</text></g>
<g id="L90"><text class="f" transform="rotate(248.29) translate(407) rotate(180)">ZMB29548</text></g>
<g id="L91"><text class="f" transform="rotate(251.14) translate(407) rotate(180)">ZMB29416_1</text></g>
<g id="L92"><text class="f" transform="rotate(254) translate(407) rotate(180)">ZMB29416_3</text></g>
<g id="L93"><text class="f" transform="rotate(256.86) translate(407) rotate(180)">ZMB29416_4</text></g>
<g id="L94"><text class="f" transform="rotate(259.71) translate(407) rotate(180)">ZMB29416_8</text></g>
<g id="L95"><text class="f" transform="rotate(262.57) translate(407) rotate(180)">ZMB29416_7</text></g>
<g id="L96"><text class="f" transform="rotate(265.43) translate(407) rotate(180)">ZMBunid840</text></g>
<g id="L97"><text class="f" transform="rotate(268.29) translate(407) rotate(180)">MEFGL_45_11a_3</text></g>
<g id="L98"><text transform="rotate(271.14) translate(407)">ZMBunid1267</text></g>
<g id="L99"><text transform="rotate(274) translate(407)">ZMBunid842</text></g>
<g id="L100"><text transform="rotate(276.86) translate(407)">MEFGL_45_11a_1</text></g>
<g id="L101"><text transform="rotate(279.71) translate(407)">MEFGL_45_11a_4</text></g>
<g id="L102"><text transform="rotate(282.57) translate(407)">MEFGL_45_11a_2</text></g>
<g id="L103"><text transform="rotate(285.43) translate(407)">ZMB29547_2</text></g>
<g id="L104"><text transform="rotate(288.29) translate(407)">ZMBunid1235</text></g>
<g id="L105"><text transform="rotate(291.14) translate(407)">ZMBunid1236</text></g>
<g id="L106"><text transform="rotate(294) translate(407)">ZMBunid1258</text></g>
<g id="L107"><text transform="rotate(296.86) translate(407)">ZMBunid1237</text></g>
<g id="L108"><text transform="rotate(299.71) translate(407)">ZMBunid839</text></g>
<g id="L109"><text transform="rotate(302.57) translate(407)">MEFGL_CT_Kuc01</text></g>
<g id="L110"><text transform="rotate(305.43) translate(407)">CT_Sar07</text></g>
<g id="L111"><text transform="rotate(308.29) translate(407)">ZMBunid1259</text></g>
<g id="L112"><text transform="rotate(311.14) translate(407)">CT_Sar08</text></g>
<g id="L113"><text transform="rotate(314) translate(407)">CT_Sar02</text></g>
<g id="L114"><text transform="rotate(316.86) translate(407)">CT_Sar03</text></g>
<g id="L115"><text transform="rotate(319.71) translate(407)">ZMB29547_1</text></g>
<g id="L116"><text transform="rotate(322.57) translate(407)">CT_Ar06</text></g>
<g id="L117"><text transform="rotate(325.43) translate(407)">DW0850j</text></g>
<g id="L118"><text transform="rotate(328.29) translate(407)">DW0850g</text></g>
<g id="L119"><text transform="rotate(331.14) translate(407)">DW0850a</text></g>
<g id="L120"><text transform="rotate(334) translate(407)">DW0850i</text></g>
<g id="L121"><text transform="rotate(336.86) translate(407)">DW0850b</text></g>
<g id="L122"><text transform="rotate(339.71) translate(407)">DW0850h</text></g>
<g id="L123"><text transform="rotate(342.57) translate(407)">DW0850d</text></g>
<g id="L124"><text transform="rotate(345.43) translate(407)">DW0850c</text></g>
<g id="L125"><text transform="rotate(348.29) translate(407)">DW0850f</text></g>
<g id="L126"><text transform="rotate(351.14) translate(407)">DW0850e</text></g>
</g>
<g id="leaders">
<path class="lead" d="M298.1 370L306 440"/>
<path class="lead" d="M485.4 460.2L486 433"/>
<path class="lead" d="M684 396.2L630 377"/>
<path class="lead" d="M459.9 557.8L449 577"/>
<path class="lead" d="M635.8 632.5L592 632.5"/>
</g>
<g id="box1" class="box"><rect x="270" y="440" width="132" height="36" rx="8"/><text x="277" y="455.5">a) 0.13 - 4.93 ; <tspan font-weight="bold">M: 1.76</tspan></text><text x="277" y="470">b) 0.67 - 1.31 ; <tspan font-weight="bold">M: 0.97</tspan></text></g>
<g id="box2" class="box"><rect x="453" y="398" width="146" height="35" rx="8"/><text x="459" y="411.5">a) 3.71 - 36.46 ; <tspan font-weight="bold">M: 11.90</tspan></text><text x="459" y="425.5">b) 13.34 - 23.07 ; <tspan font-weight="bold">M: 17.94</tspan></text></g>
<g id="box3" class="box"><rect x="498" y="347" width="132" height="35" rx="8"/><text x="505" y="360">a) 0.13 - 7.42 ; <tspan font-weight="bold">M: 2.50</tspan></text><text x="505" y="374">b) 0.74 - 1.75 ; <tspan font-weight="bold">M: 1.23</tspan></text></g>
<g id="box4" class="box"><rect x="333" y="577" width="146" height="35" rx="8"/><text x="339" y="590.5">a) 2.14 - 11.84 ; <tspan font-weight="bold">M: 5.07</tspan></text><text x="339" y="605">b) 10.64 - 18.52 ; <tspan font-weight="bold">M: 14.04</tspan></text></g>
<g id="box5" class="box"><rect x="460" y="615" width="132" height="35" rx="8"/><text x="467" y="628.5">a) 0.14 - 6.83 ; <tspan font-weight="bold">M: 2.50</tspan></text><text x="467" y="643">b) 2.61 - 4.73 ; <tspan font-weight="bold">M: 3.62</tspan></text></g>
</svg>
